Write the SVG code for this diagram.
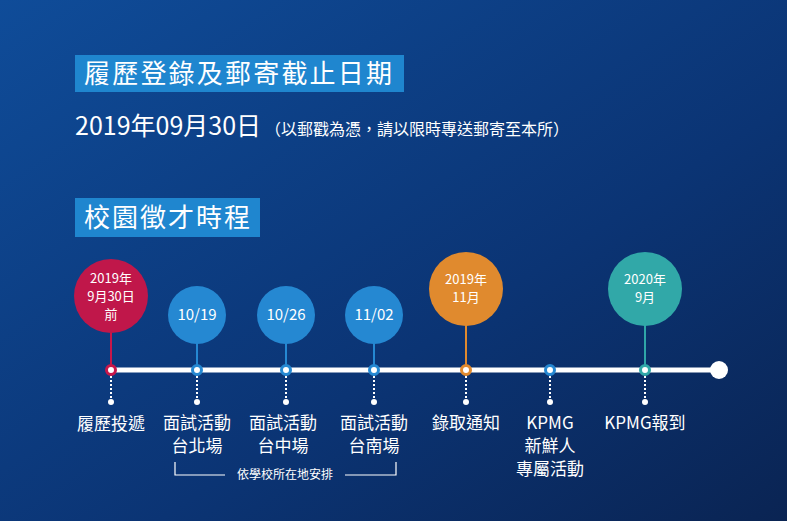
<svg xmlns="http://www.w3.org/2000/svg" width="787" height="521" viewBox="0 0 787 521">
<defs>
<linearGradient id="bg" x1="0" y1="0" x2="1" y2="1">
<stop offset="0" stop-color="#0f4c99"/><stop offset="0.6" stop-color="#0b3474"/><stop offset="1" stop-color="#0a2453"/>
</linearGradient>
<style>
text{font-family:"Noto Sans CJK TC","Noto Sans",sans-serif;fill:#fff}
.h{font-size:26px}
.c{font-size:13px;text-anchor:middle}
.l{font-size:17px;text-anchor:middle}
.dot{fill:#fff;stroke-width:3}
.dl{stroke:#fff;stroke-width:2;stroke-dasharray:2 2}
</style>
</defs>
<rect width="787" height="521" fill="url(#bg)"/>
<rect x="75" y="55" width="329" height="37" fill="#1f86cf"/>
<text class="h" x="84" y="83" textLength="308">履歷登錄及郵寄截止日期</text>
<text x="75" y="135" style="font-size:25px">2019年09月30日<tspan dx="4" style="font-size:16px">（以郵戳為憑，請以限時專送郵寄至本所）</tspan></text>
<rect x="75" y="198" width="185" height="39" fill="#1f86cf"/>
<text class="h" x="84" y="227" textLength="166">校園徵才時程</text>
<g id="connectors">
<line x1="111" y1="370" x2="719" y2="370" stroke="#fff" stroke-width="5"/>
<circle cx="719" cy="370" r="9" fill="#fff"/>
<line x1="111" y1="330" x2="111" y2="370" stroke="#c8174a" stroke-width="2"/>
<line x1="197" y1="340" x2="197" y2="370" stroke="#2588d2" stroke-width="2"/>
<line x1="286" y1="340" x2="286" y2="370" stroke="#2588d2" stroke-width="2"/>
<line x1="374" y1="340" x2="374" y2="370" stroke="#2588d2" stroke-width="2"/>
<line x1="466" y1="322" x2="466" y2="370" stroke="#e08a2e" stroke-width="2"/>
<line x1="645" y1="322" x2="645" y2="370" stroke="#2fa6a8" stroke-width="2"/>
<g class="dl"><line x1="111" y1="376" x2="111" y2="402"/><line x1="197" y1="376" x2="197" y2="402"/><line x1="286" y1="376" x2="286" y2="402"/><line x1="374" y1="376" x2="374" y2="402"/><line x1="466" y1="376" x2="466" y2="402"/><line x1="550" y1="376" x2="550" y2="402"/><line x1="645" y1="376" x2="645" y2="402"/></g>
<g fill="#fff"><circle cx="111" cy="402" r="3"/><circle cx="197" cy="402" r="3"/><circle cx="286" cy="402" r="3"/><circle cx="374" cy="402" r="3"/><circle cx="466" cy="402" r="3"/><circle cx="550" cy="402" r="3"/><circle cx="645" cy="402" r="3"/></g>
<path d="M175 462V475H225M345 475H396V462" fill="none" stroke="#fff" stroke-width="1.2"/>
<text x="285" y="479" style="font-size:12px;text-anchor:middle">依學校所在地安排</text>
</g>
<g id="n1"><circle cx="111" cy="296" r="37" fill="#c0174a"/><text class="c" x="111" y="283">2019年</text><text class="c" x="111" y="301">9月30日</text><text class="c" x="111" y="319">前</text><circle class="dot" cx="111" cy="370" r="4.5" stroke="#c8174a"/><text class="l" x="111" y="430">履歷投遞</text></g>
<g id="n2"><circle cx="197" cy="315" r="29" fill="#2588d2"/><text class="c" x="197" y="320" style="font-size:15px">10/19</text><circle class="dot" cx="197" cy="370" r="4.5" stroke="#2588d2"/><text class="l" x="197" y="429">面試活動</text><text class="l" x="197" y="452">台北場</text></g>
<g id="n3"><circle cx="286" cy="315" r="29" fill="#2588d2"/><text class="c" x="286" y="320" style="font-size:15px">10/26</text><circle class="dot" cx="286" cy="370" r="4.5" stroke="#2588d2"/><text class="l" x="283" y="429">面試活動</text><text class="l" x="283" y="452">台中場</text></g>
<g id="n4"><circle cx="374" cy="315" r="29" fill="#2588d2"/><text class="c" x="374" y="320" style="font-size:15px">11/02</text><circle class="dot" cx="374" cy="370" r="4.5" stroke="#2588d2"/><text class="l" x="374" y="429">面試活動</text><text class="l" x="374" y="452">台南場</text></g>
<g id="n5"><circle cx="466" cy="289" r="37" fill="#e08a2e"/><text class="c" x="466" y="284">2019年</text><text class="c" x="466" y="302">11月</text><circle class="dot" cx="466" cy="370" r="4.5" stroke="#e08a2e"/><text class="l" x="466" y="429">錄取通知</text></g>
<g id="n6"><circle class="dot" cx="550" cy="370" r="4.5" stroke="#2588d2"/><text class="l" x="550" y="429">KPMG</text><text class="l" x="550" y="452">新鮮人</text><text class="l" x="550" y="475">專屬活動</text></g>
<g id="n7"><circle cx="645" cy="289" r="37" fill="#31a8a8"/><text class="c" x="645" y="284">2020年</text><text class="c" x="645" y="302">9月</text><circle class="dot" cx="645" cy="370" r="4.5" stroke="#31a8a8"/><text class="l" x="645" y="429">KPMG報到</text></g>
</svg>
